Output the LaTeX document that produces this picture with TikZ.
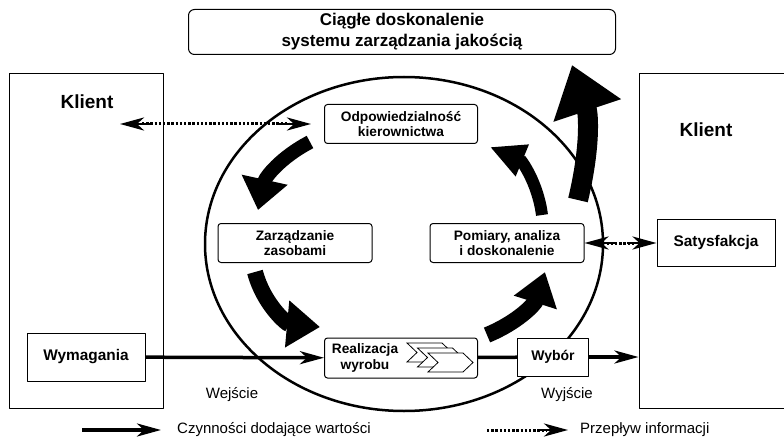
\documentclass[tikz,border=0pt]{standalone}
\usepackage{fontspec}
\setmainfont{Liberation Sans}
\usetikzlibrary{arrows.meta}
\tikzset{
  pole/.style={draw, line width=1pt, fill=white, rounded corners=3pt, align=center,
    inner sep=0pt, minimum width=154pt, minimum height=39pt,
    font=\bfseries\fontsize{13.7}{15.5}\selectfont},
  ramka/.style={draw, line width=1pt, fill=white, align=center, inner sep=0pt,
    font=\bfseries\fontsize{15.4}{18}\selectfont},
  klient/.style={draw, line width=1pt, inner sep=0pt, minimum width=154pt, minimum height=334pt},
  napis/.style={font=\fontsize{15}{18}\selectfont, inner sep=0pt},
  duza/.style={line width=#1, line cap=butt},
  grot/.style={-{Stealth[length=24pt,width=13pt,inset=7pt]}},
  glowna/.style={line width=3.5pt, grot},
  kropki/.style={line width=3pt, dash pattern=on 2.4pt off 1.8pt},
  chevron/.style={draw, line width=0.8pt, fill=white, line join=miter}
}
\begin{document}
\begin{tikzpicture}[x=1pt, y=1pt, line join=round]
  \useasboundingbox (0,0) rectangle (784,437);
  \def\w{35} \def\d{10} \def\h{19} % strzalki w realizacji
  % cykl
  \draw[line width=2.5pt] (404,193) ellipse [x radius=199pt, y radius=167pt];
  % klienci
  \node[klient] (klientL) at (86,196) {};
  \node[klient, minimum width=160pt] (klientP) at (719,196) {};
  \node[font=\bfseries\fontsize{19}{22}\selectfont, inner sep=0pt] (tklientL) at (87,335) {Klient};
  \node[font=\bfseries\fontsize{19}{22}\selectfont, inner sep=0pt] (tklientP) at (706,307) {Klient};
  % pola
  \node[pole, rounded corners=6pt, minimum width=427pt, minimum height=45pt,
    font=\bfseries\fontsize{17}{21}\selectfont] (ciagle) at (402,405)
    {Ciągłe doskonalenie\\systemu zarządzania jakością};
  \node[pole, minimum width=153pt] (odp) at (401,313) {Odpowiedzialność\\kierownictwa};
  \node[pole] (zas) at (295,194) {Zarządzanie\\zasobami};
  \node[pole] (pom) at (507,194) {Pomiary, analiza\\i doskonalenie};
  \node[pole, minimum width=153pt, minimum height=40pt] (real) at (401,79) {};
  \node[font=\bfseries\fontsize{13.7}{15.5}\selectfont, align=center, inner sep=0pt] (treal) at (365,79)
    {Realizacja\\wyrobu};
  \foreach \x/\y in {407/94, 417.5/89, 428/84}
    \draw[chevron] (\x,\y) -- ++(\w,0) -- ++(\d,-\h/2) -- ++(-\d,-\h/2) -- ++(-\w,0)
      -- ++(\d,\h/2) -- cycle;
  \node[ramka, minimum width=71pt, minimum height=38pt, font=\bfseries\fontsize{14}{16}\selectfont] (wyb) at (553,80) {Wybór};
  \node[ramka, minimum width=118pt, minimum height=48pt] (wym) at (86,80) {Wymagania};
  \node[ramka, minimum width=118pt, minimum height=47pt] (sat) at (716,194) {Satysfakcja};
  \node[napis] (wej) at (232,42) {Wejście};
  \node[napis] (wyj) at (567,42) {Wyjście};
  % przeplyw
  \draw[glowna] (wym) -- (real);
  \draw[line width=3.5pt] (real) -- (wyb);
  \draw[glowna] (wyb) -- (wyb -| klientP.west);
  % informacja
  \coordinate (infoL) at (120,313);
  \coordinate (infoP) at ([xshift=-13pt]odp.west);
  \draw[kropki] ([xshift=22pt]infoL) -- ([xshift=-22pt]infoP);
  \draw[line width=2.8pt, grot] ([xshift=32pt]infoL) -- (infoL);
  \draw[line width=2.8pt, grot] ([xshift=-32pt]infoP) -- (infoP);
  \draw[kropki] ([xshift=22pt]pom.east) -- ([xshift=-22pt]sat.west);
  \draw[line width=2.8pt, grot] ([xshift=30pt]pom.east) -- (pom.east);
  \draw[line width=2.8pt, grot] ([xshift=-30pt]sat.west) -- (sat.west);
  % duze strzalki
  \coordinate (s1) at (310,295); \coordinate (k1) at (258,227);
  \coordinate (s2) at (255,165); \coordinate (k2) at (320,110);
  \coordinate (s3) at (487,102); \coordinate (k3) at (545,165);
  \coordinate (s4) at (542,222); \coordinate (k4) at (490,290);
  \coordinate (s5) at (578,237); \coordinate (k5) at (572,372);
  \draw[duza=14pt, -{Triangle[length=31pt,width=45pt]}] (s1) to[bend right=25] (k1);
  \draw[duza=16pt, -{Triangle[length=33pt,width=45pt]}] (s2) to[bend right=35] (k2);
  \draw[duza=16pt, -{Triangle[length=32pt,width=43pt]}] (s3) to[bend right=25] (k3);
  \draw[duza=12pt, -{Triangle[length=35pt,width=32pt]}] (s4) to[bend right=30] (k4);
  \draw[duza=20pt, -{Triangle[length=48pt,width=68pt]}] (s5) to[bend right=16] (k5);
  % legenda
  \coordinate (l1) at (82,7); \coordinate (l2) at (161,7);
  \coordinate (l3) at (487,7); \coordinate (l4) at (568,7);
  \draw[glowna] (l1) -- (l2);
  \draw[kropki] (l3) -- ([xshift=-22pt]l4);
  \draw[line width=2.8pt, grot] ([xshift=-30pt]l4) -- (l4);
  \node[napis, anchor=west] (leg1) at (177,7) {Czynności dodające wartości};
  \node[napis, anchor=west] (leg2) at (580,7) {Przepływ informacji};
\end{tikzpicture}
\end{document}
